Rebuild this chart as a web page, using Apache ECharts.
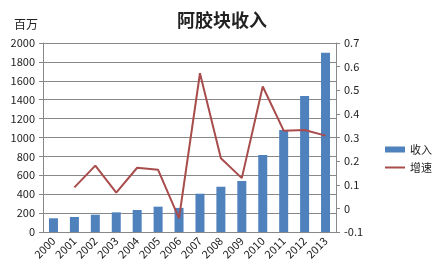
<!DOCTYPE html>
<html><head><meta charset="utf-8">
<script src="https://cdn.jsdelivr.net/npm/echarts@6/dist/echarts.min.js"></script>
<style>html,body{margin:0;padding:0;background:#fff}#c{width:433px;height:274px}</style>
</head><body><div id="c"></div>
<script>
const years = ['2000','2001','2002','2003','2004','2005','2006','2007','2008','2009','2010','2011','2012','2013'];
const revenue = [145,159,183,208,233,268,255,405,479,540,815,1079,1439,1897];
const growth = [null,0.089,0.181,0.067,0.172,0.163,-0.042,0.572,0.212,0.128,0.516,0.329,0.332,0.308];

const chart = echarts.init(document.getElementById('c'));
const font = '"Microsoft YaHei","Noto Sans CJK SC","DejaVu Sans",sans-serif';
const legText = {fontSize:11,color:'#222',fontFamily:font};
chart.setOption({
  animation:false,
  title:{text:'阿胶块收入',left:217,textAlign:'center',top:6,textStyle:{fontSize:18,fontWeight:'bold',color:'#222',fontFamily:'"Noto Sans CJK SC",serif'}},
  graphic:[{type:'text',left:14,top:18,style:{text:'百万',fontSize:12,fill:'#222',fontFamily:font}}],
  legend:[
    {orient:'vertical',left:380,top:139,itemWidth:20,itemHeight:6,textStyle:legText,data:[{name:'收入',icon:'rect'}]},
    {orient:'vertical',left:380,top:157,itemWidth:20,itemHeight:2,textStyle:legText,data:[{name:'增速',icon:'rect'}]}
  ],
  grid:{left:43,right:97,top:43,bottom:42},
  xAxis:{type:'category',data:years,
    axisLine:{lineStyle:{color:'#888'}},axisTick:{show:false},
    axisLabel:{rotate:45,fontSize:11,color:'#222',margin:7,interval:0,fontFamily:font}},
  yAxis:[
    {type:'value',min:0,max:2000,interval:200,
     axisLine:{show:true,lineStyle:{color:'#888'}},axisTick:{show:true,length:4,lineStyle:{color:'#888'}},
     splitLine:{lineStyle:{color:'#888'}},
     axisLabel:{fontSize:11,color:'#222',margin:8,fontFamily:font,formatter:v=>String(v)}},
    {type:'value',min:-0.1,max:0.7,interval:0.1,
     axisLine:{show:true,lineStyle:{color:'#888'}},axisTick:{show:true,length:4,lineStyle:{color:'#888'}},
     splitLine:{show:false},
     axisLabel:{fontSize:11,color:'#222',margin:8,fontFamily:font,formatter:v=>{const r=Math.round(v*10)/10;return r===0?'0':String(r);}}}
  ],
  series:[
    {name:'收入',type:'bar',data:revenue,barWidth:9,itemStyle:{color:'#4F81BD'}},
    {name:'增速',type:'line',yAxisIndex:1,data:growth,symbol:'none',lineStyle:{color:'#A84C4C',width:2},itemStyle:{color:'#A84C4C'}}
  ]
});
</script></body></html>
